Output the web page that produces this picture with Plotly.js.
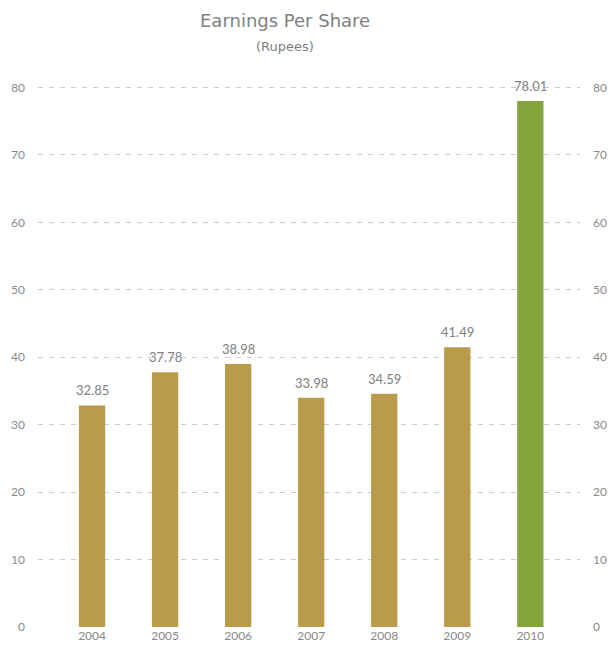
<!DOCTYPE html>
<html>
<head>
<meta charset="utf-8">
<script src="https://cdn.plot.ly/plotly-3.0.1.min.js"></script>
<style>html,body{margin:0;padding:0;background:#fff;}#chart{width:610px;height:649px;}</style>
</head>
<body>
<div id="chart"></div>
<script>
const years = ['2004', '2005', '2006', '2007', '2008', '2009', '2010'];
const eps = [32.85, 37.78, 38.98, 33.98, 34.59, 41.49, 78.01];
const epsLabels = ['32.85', '37.78', '38.98', '33.98', '34.59', '41.49', '78.01'];
const barColors = ['#b99b4b', '#b99b4b', '#b99b4b', '#b99b4b', '#b99b4b', '#b99b4b', '#84a63a'];
const yTicks = [0, 10, 20, 30, 40, 50, 60, 70, 80];

const font = 'Lato, "Open Sans", sans-serif';
const titleFont = '"DejaVu Sans", Lato, sans-serif';
const grey = '#8a8a8a';

const traces = [
  {
    type: 'bar',
    x: years,
    y: eps,
    marker: {color: barColors, line: {width: 0}},
    hoverinfo: 'x+y'
  },
  {
    type: 'scatter',
    mode: 'markers',
    x: years,
    y: eps,
    yaxis: 'y2',
    marker: {opacity: 0},
    hoverinfo: 'skip',
    showlegend: false
  }
];

// category axes take the category index for annotation positions
const valueAnnotations = years.map((yr, i) => ({
  x: i,
  y: eps[i],
  xref: 'x',
  yref: 'y',
  text: epsLabels[i],
  showarrow: false,
  xanchor: 'center',
  yanchor: 'bottom',
  yshift: 5,
  font: {family: font, size: 13, color: '#808080'}
}));

const layout = {
  width: 610,
  height: 649,
  margin: {l: 38, r: 30, t: 74, b: 22},
  paper_bgcolor: '#ffffff',
  plot_bgcolor: '#ffffff',
  showlegend: false,
  bargap: 0.64,
  annotations: valueAnnotations.concat([
    {
      xref: 'paper', yref: 'paper', x: 0.456, y: 1, yshift: 54,
      text: 'Earnings Per Share', showarrow: false,
      xanchor: 'center', yanchor: 'middle',
      font: {family: titleFont, size: 18, color: '#808080'}
    },
    {
      xref: 'paper', yref: 'paper', x: 0.456, y: 1, yshift: 28,
      text: '(Rupees)', showarrow: false,
      xanchor: 'center', yanchor: 'middle',
      font: {family: titleFont, size: 13, color: '#808080'}
    }
  ]),
  xaxis: {
    type: 'category',
    range: [-0.74, 6.68],
    showgrid: false,
    zeroline: false,
    showline: false,
    ticks: '',
    tickfont: {family: font, size: 12, color: grey}
  },
  yaxis: {
    range: [0, 82],
    tickvals: yTicks,
    showgrid: true,
    gridcolor: '#c9ccd3',
    griddash: '5px,6px',
    gridwidth: 1,
    zeroline: false,
    showline: false,
    ticks: '',
    ticklabelstandoff: 12,
    tickfont: {family: font, size: 12, color: grey}
  },
  yaxis2: {
    overlaying: 'y',
    side: 'right',
    range: [0, 82],
    tickvals: yTicks,
    showgrid: false,
    zeroline: false,
    showline: false,
    ticks: '',
    ticklabelstandoff: 12,
    tickfont: {family: font, size: 12, color: grey}
  }
};

Plotly.newPlot('chart', traces, layout, {displayModeBar: false, staticPlot: true});
</script>
</body>
</html>
